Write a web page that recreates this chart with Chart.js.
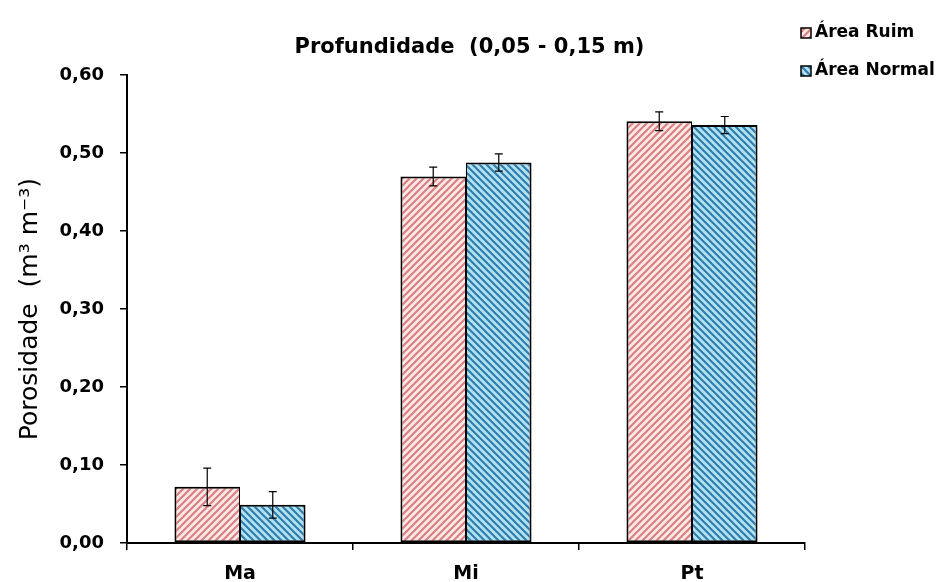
<!DOCTYPE html>
<html>
<head>
<meta charset="utf-8">
<script src="https://cdn.jsdelivr.net/npm/chart.js@4.4.1/dist/chart.umd.min.js"></script>
<style>
  html, body { margin: 0; padding: 0; background: #fff; }
  #wrap { width: 939px; height: 582px; }
</style>
</head>
<body>
<div id="wrap"><canvas id="c" width="939" height="582"></canvas></div>
<script>
// ---- data ----
const categories = ["Ma", "Mi", "Pt"];
const seriesNames = ["Área Ruim", "Área Normal"];
const ruimValues = [0.072, 0.470, 0.541];
const ruimErrors = [0.024, 0.012, 0.012];
const normalValues = [0.049, 0.488, 0.536];
const normalErrors = [0.017, 0.011, 0.011];
const yTicks = [0, 0.1, 0.2, 0.3, 0.4, 0.5, 0.6];
const titleText = "Profundidade  (0,05 - 0,15 m)";
const yTitle = "Porosidade  (m³ m⁻³)";

const FONT = "'DejaVu Sans', sans-serif";

function makePattern(bg, fg, dir) {
  const s = 7;
  const pc = document.createElement('canvas');
  pc.width = s; pc.height = s;
  const g = pc.getContext('2d');
  g.fillStyle = bg; g.fillRect(0, 0, s, s);
  g.strokeStyle = fg; g.lineWidth = 2.2; g.lineCap = 'square';
  g.beginPath();
  if (dir === '/') {
    for (let k = -1; k <= 1; k++) {
      g.moveTo(k * s - 1, s + 1); g.lineTo(k * s + s + 1, -1);
    }
  } else {
    for (let k = -1; k <= 1; k++) {
      g.moveTo(k * s - 1, -1); g.lineTo(k * s + s + 1, s + 1);
    }
  }
  g.stroke();
  return document.getElementById('c').getContext('2d').createPattern(pc, 'repeat');
}

const ruimPattern = makePattern('#fce8e8', '#da8080', '/');
const normalPattern = makePattern('#b4e2f0', '#2f7eae', '\\');

const errorBarPlugin = {
  id: 'errorBars',
  afterDatasetsDraw(chart) {
    const ctx = chart.ctx;
    const yScale = chart.scales.y;
    ctx.save();
    ctx.strokeStyle = '#000';
    ctx.lineWidth = 1.2;
    chart.data.datasets.forEach((ds, di) => {
      const meta = chart.getDatasetMeta(di);
      meta.data.forEach((bar, i) => {
        const v = ds.data[i], e = ds.errors[i];
        const yTop = yScale.getPixelForValue(v + e);
        const yBot = yScale.getPixelForValue(v - e);
        const x = bar.x;
        ctx.beginPath();
        ctx.moveTo(x, yTop); ctx.lineTo(x, yBot);
        ctx.moveTo(x - 4, yTop); ctx.lineTo(x + 4, yTop);
        ctx.moveTo(x - 4, yBot); ctx.lineTo(x + 4, yBot);
        ctx.stroke();
      });
    });
    ctx.restore();
  }
};

const legendPlugin = {
  id: 'customLegend',
  afterDraw(chart) {
    const ctx = chart.ctx;
    ctx.save();
    const x0 = chart.chartArea.right - 4;
    const rows = [33, 71];
    chart.data.datasets.forEach((ds, i) => {
      const y = rows[i];
      ctx.fillStyle = ds.backgroundColor;
      ctx.fillRect(x0, y - 5, 10, 10);
      ctx.strokeStyle = '#000';
      ctx.lineWidth = 1.5;
      ctx.strokeRect(x0, y - 5, 10, 10);
      ctx.fillStyle = '#000';
      ctx.font = "bold 17px " + FONT;
      ctx.textBaseline = 'middle';
      ctx.textAlign = 'left';
      ctx.fillText(ds.label, x0 + 14, y);
    });
    ctx.restore();
  }
};

new Chart(document.getElementById('c'), {
  type: 'bar',
  data: {
    labels: categories,
    datasets: [
      { label: seriesNames[0], data: ruimValues, errors: ruimErrors,
        backgroundColor: ruimPattern, borderColor: '#000',
        borderWidth: { top: 2, left: 2, bottom: 2, right: 1 }, borderSkipped: false },
      { label: seriesNames[1], data: normalValues, errors: normalErrors,
        backgroundColor: normalPattern, borderColor: '#000',
        borderWidth: { top: 2, left: 1, bottom: 2, right: 2 }, borderSkipped: false }
    ]
  },
  options: {
    responsive: false,
    animation: false,
    devicePixelRatio: 1,
    datasets: { bar: { categoryPercentage: 0.58, barPercentage: 1.0 } },
    layout: { padding: 0 },
    plugins: {
      legend: { display: false },
      tooltip: { enabled: false },
      title: {
        display: true, text: titleText, color: '#000',
        font: { family: FONT, size: 21, weight: 'bold' },
        padding: { top: 35, bottom: 15 }
      }
    },
    scales: {
      x: {
        afterFit(s) { s.height = 39; },
        grid: { display: true, drawOnChartArea: false, drawTicks: true, tickLength: 7,
                color: '#000', lineWidth: 1.5, offset: true },
        border: { display: true, color: '#000', width: 2 },
        ticks: { color: '#000', font: { family: FONT, size: 19, weight: 'bold', lineHeight: 1 }, padding: 15 }
      },
      y: {
        min: 0, max: 0.6,
        afterFit(s) { s.width = 127; },
        afterBuildTicks(scale) { scale.ticks = yTicks.map(v => ({ value: v })); },
        grid: { display: true, drawOnChartArea: false, drawTicks: true, tickLength: 7,
                color: '#000', lineWidth: 1.5 },
        border: { display: true, color: '#000', width: 2 },
        ticks: {
          color: '#000', padding: 16,
          font: { family: FONT, size: 18, weight: 'bold' },
          callback: v => Number(v).toFixed(2).replace('.', ',')
        },
        title: {
          display: true, text: yTitle, color: '#000',
          font: { family: FONT, size: 25, weight: 'normal' },
          padding: { top: 15, bottom: 0 }
        }
      },
      spacer: {
        position: 'right', axis: 'y', min: 0, max: 1,
        afterFit(s) { s.width = 134; },
        grid: { display: false }, border: { display: false },
        ticks: { display: false }
      }
    }
  },
  plugins: [errorBarPlugin, legendPlugin]
});
</script>
</body>
</html>
